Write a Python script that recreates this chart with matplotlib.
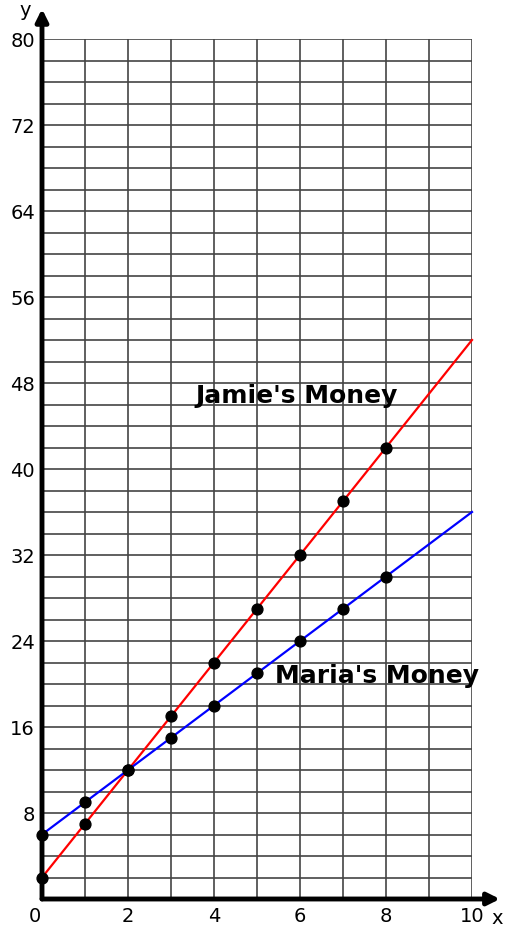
import matplotlib.pyplot as plt
import matplotlib.transforms as mtransforms

# data
weeks = [0, 1, 2, 3, 4, 5, 6, 7, 8]
jamie = [2, 7, 12, 17, 22, 27, 32, 37, 42]
maria = [6, 9, 12, 15, 18, 21, 24, 27, 30]
line_x = [0, 10]
jamie_line = [2, 52]
maria_line = [6, 36]
x_ticks = [0, 2, 4, 6, 8, 10]
y_ticks = [8, 16, 24, 32, 40, 48, 56, 64, 72, 80]

fig = plt.figure(figsize=(5.15, 9.28), dpi=100)
ax = fig.add_axes([42 / 515, 28 / 928, 430 / 515, 860 / 928])
ax.set_xlim(0, 10)
ax.set_ylim(0, 80)

# grid
for gx in range(0, 11):
    ax.axvline(gx, color='#444444', lw=1.2, zorder=1)
for gy in range(0, 81, 2):
    ax.axhline(gy, color='#444444', lw=1.2, zorder=1)

for s in ax.spines.values():
    s.set_visible(False)

ax.plot(line_x, jamie_line, color='red', lw=1.6, zorder=3, clip_on=False)
ax.plot(line_x, maria_line, color='blue', lw=1.6, zorder=3, clip_on=False)
ax.plot(weeks, jamie, 'o', color='black', ms=7.8, zorder=4, clip_on=False)
ax.plot(weeks, maria, 'o', color='black', ms=7.8, zorder=4, clip_on=False)

# axes arrows
ax.annotate('', xy=(10.65, 0), xytext=(0, 0), annotation_clip=False,
            arrowprops=dict(arrowstyle='-|>', color='black', lw=3.5,
                            mutation_scale=18, shrinkA=0, shrinkB=0), zorder=5)
ax.annotate('', xy=(0, 82.8), xytext=(0, 0), annotation_clip=False,
            arrowprops=dict(arrowstyle='-|>', color='black', lw=3.5,
                            mutation_scale=18, shrinkA=0, shrinkB=0), zorder=5)

ax.set_xticks(x_ticks)
ax.set_yticks(y_ticks)
ax.tick_params(length=0, labelsize=14)
ax.tick_params(axis='x', pad=5)
ax.tick_params(axis='y', pad=5)

# the 0 on the x axis sits a little left of the corner
zero_lbl = ax.get_xticklabels()[0]
zero_lbl.set_transform(zero_lbl.get_transform() +
                       mtransforms.ScaledTranslation(-7 / 100, 0, fig.dpi_scale_trans))

fig.text(25 / 515, 1 - 10 / 928, 'y', fontsize=14, ha='center', va='center')
fig.text(497 / 515, 1 - 919 / 928, 'x', fontsize=14, ha='center', va='center')

ax.text(3.56, 46.9, "Jamie's Money", fontsize=18, fontweight='bold',
        ha='left', va='center', zorder=6)
ax.text(5.42, 20.8, "Maria's Money", fontsize=18, fontweight='bold',
        ha='left', va='center', zorder=6)

fig.savefig('out.png', dpi=100)
